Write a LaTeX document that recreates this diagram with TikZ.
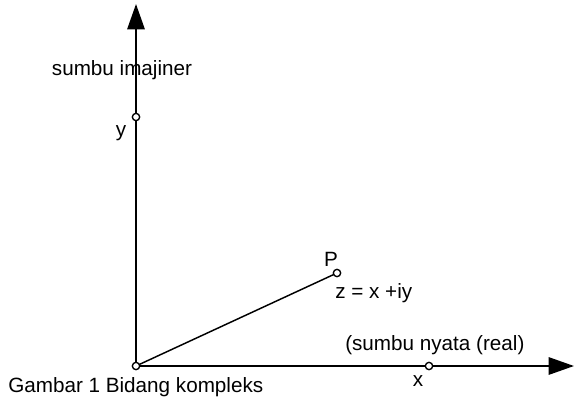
\documentclass[tikz,border=0pt]{standalone}
\usepackage{fontspec}
\setmainfont{Liberation Sans}
\usetikzlibrary{arrows.meta}
\begin{document}
\begin{tikzpicture}[
    x=0.75pt,y=-0.75pt,
    axisLine/.style={line width=1.5pt,-{Triangle[length=19pt,width=13pt]}},
    ptDot/.style={circle,draw=black,fill=white,line width=1pt,inner sep=0pt,minimum size=5.5pt},
    lbl/.style={font=\fontsize{15.5}{18}\selectfont,inner sep=0pt},
]
\useasboundingbox (0,0) rectangle (578,403);
\coordinate (O) at (136,366);
\coordinate (XTIP) at (574,366);
\coordinate (YTIP) at (136,4);
\draw[axisLine] (O) -- (XTIP);
\draw[axisLine] (O) -- (YTIP);
\coordinate (Pc) at (337,273);
\draw[line width=1.1pt] (O) -- (Pc);
\node[ptDot] (ORG) at (O) {};
\node[ptDot] (YPT) at (136,117) {};
\node[ptDot] (XPT) at (429,366) {};
\node[ptDot] (PPT) at (Pc) {};
\node[lbl] (IMAJ) at (122,70) {sumbu imajiner};
\node[lbl] (YLBL) at (121,133) {y};
\node[lbl] (PLBL) at (331,259) {P};
\node[lbl,anchor=west] (ZLBL) at (335,293) {z = x +iy};
\node[lbl,anchor=west] (REAL) at (345,345) {(sumbu nyata (real)};
\node[lbl] (XLBL) at (418,381) {x};
\node[lbl,anchor=west] (CAP) at (8,387) {Gambar 1 Bidang kompleks};
\end{tikzpicture}
\end{document}
